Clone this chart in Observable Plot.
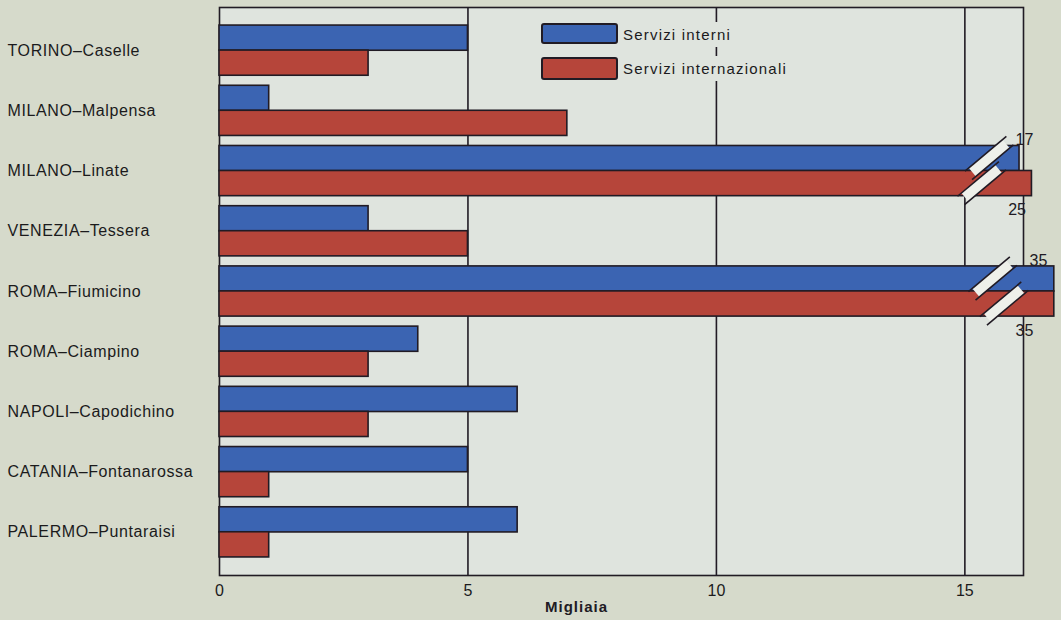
<!DOCTYPE html>
<html>
<head>
<meta charset="utf-8">
<script src="https://cdn.jsdelivr.net/npm/d3@7"></script>
<script src="https://cdn.jsdelivr.net/npm/@observablehq/plot@0.6"></script>
<style>
html, body { margin: 0; padding: 0; background: #d6dacb; }
#wrap { position: relative; width: 1061px; height: 620px; font-family: "Liberation Sans", Arial, sans-serif; color: #1b1a1c; }
#wrap svg { position: absolute; left: 0; top: 0; background: transparent; }
.lg-box { position: absolute; left: 541px; width: 73px; border: 2px solid #211b24; border-radius: 3px; }
.lg-txt { position: absolute; left: 622px; font-size: 15px; letter-spacing: 1.2px; background: #dfe4de; padding: 5px 2px 5px 1px; line-height: 15px; }
</style>
</head>
<body>
<div id="wrap"></div>
<script>
// ---- data ----
const airports = [
  "TORINO–Caselle", "MILANO–Malpensa", "MILANO–Linate", "VENEZIA–Tessera",
  "ROMA–Fiumicino", "ROMA–Ciampino", "NAPOLI–Capodichino",
  "CATANIA–Fontanarossa", "PALERMO–Puntaraisi"
];
const seriesNames = ["Servizi interni", "Servizi internazionali"];
const interni = [5, 1, 17, 3, 35, 4, 6, 5, 6];
const internazionali = [3, 7, 25, 5, 35, 3, 3, 1, 1];
const xTicks = [0, 5, 10, 15];
const xLabel = "Migliaia";
// broken (truncated) bars: length drawn on the cut axis, where the break sign sits, where its value label sits
const brokenAirports = ["MILANO–Linate", "MILANO–Linate", "ROMA–Fiumicino", "ROMA–Fiumicino"];
const brokenSeries = ["Servizi interni", "Servizi internazionali", "Servizi interni", "Servizi internazionali"];
const brokenDrawn = [16.1, 16.35, 16.8, 16.8];
const brokenBreakAt = [15.5, 15.35, 15.57, 15.8];
const brokenLabelAt = [16.2, 16.05, 16.48, 16.2];

const colors = ["#3b64b2", "#b6453a"];
const ink = "#211b24";

// ---- build rows ----
const broken = brokenAirports.map((a, i) => ({
  airport: a, series: brokenSeries[i], drawn: brokenDrawn[i],
  breakAt: brokenBreakAt[i], labelAt: brokenLabelAt[i]
}));
function findBroken(a, s) { return broken.find(b => b.airport === a && b.series === s); }
const rows = [];
airports.forEach((a, i) => {
  [interni[i], internazionali[i]].forEach((v, k) => {
    const b = findBroken(a, seriesNames[k]);
    if (b) b.value = v;
    rows.push({ airport: a, series: seriesNames[k], value: v, len: b ? b.drawn : v });
  });
});

function breakMarks(index, scales, values, dimensions) {
  const x = scales.x, y = scales.y;
  const bw = (y && y.bandwidth) ? y.bandwidth() : 50;
  const g = d3.create("svg:g");
  const ang = 40 * Math.PI / 180;
  const ux = Math.cos(ang), uy = -Math.sin(ang);   // along slash
  const px = Math.sin(ang), py = Math.cos(ang);    // perpendicular
  broken.forEach(b => {
    const cx = x(b.breakAt);
    const cy = y(b.airport) + (b.series === seriesNames[0] ? bw * 0.25 : bw * 0.75);
    const L = 27, L2 = 22, w = 5.5;
    const pts = [
      [cx - ux * L2 - px * w, cy - uy * L2 - py * w],
      [cx + ux * L2 - px * w, cy + uy * L2 - py * w],
      [cx + ux * L2 + px * w, cy + uy * L2 + py * w],
      [cx - ux * L2 + px * w, cy - uy * L2 + py * w]
    ];
    g.append("polygon").attr("points", pts.map(p => p.join(",")).join(" "))
      .attr("fill", "#eef0ea");
    [-1, 1].forEach(s => {
      g.append("line")
        .attr("x1", cx - ux * L + s * px * w).attr("y1", cy - uy * L + s * py * w)
        .attr("x2", cx + ux * L + s * px * w).attr("y2", cy + uy * L + s * py * w)
        .attr("stroke", ink).attr("stroke-width", 1.6);
    });
  });
  return g.node();
}

const chart = Plot.plot({
  width: 1061,
  height: 620,
  marginLeft: 219,
  marginRight: 38,
  marginTop: 7,
  marginBottom: 45,
  style: { background: "transparent", fontFamily: "'Liberation Sans', Arial, sans-serif", color: "#1b1a1c" },
  x: { domain: [0, 16.18] },
  y: { domain: airports, paddingInner: 0.1667, paddingOuter: 0.3, round: false },
  marks: [
    Plot.frame({ fill: "#dfe4de", stroke: ink, strokeWidth: 1.6 }),
    Plot.ruleX(xTicks.filter(t => t > 0), { stroke: ink, strokeWidth: 1.6 }),
    Plot.barX(rows.filter(d => d.series === seriesNames[0]), {
      x: "len", y: "airport", fill: colors[0], stroke: ink, strokeWidth: 1.6, insetBottom: 25
    }),
    Plot.barX(rows.filter(d => d.series === seriesNames[1]), {
      x: "len", y: "airport", fill: colors[1], stroke: ink, strokeWidth: 1.6, insetTop: 25
    }),
    breakMarks,
    Plot.text(broken.filter(b => b.series === seriesNames[0]), {
      x: "labelAt", y: "airport", text: d => String(d.value), dy: -31, fontSize: 16, fill: ink
    }),
    Plot.text(broken.filter(b => b.series === seriesNames[1]), {
      x: "labelAt", y: "airport", text: d => String(d.value), dy: 39, fontSize: 16, fill: ink
    }),
    Plot.axisX(xTicks, { tickSize: 0, tickPadding: 9, fontSize: 16, label: null }),
    Plot.axisY({ tickSize: 0, tickPadding: 0, textAnchor: "start", dx: -212, fontSize: 16, label: null }),
    Plot.text([xLabel], { text: d => d, frameAnchor: "bottom", dx: -45, dy: 36, fontSize: 15, fontWeight: "bold", fill: ink })
  ]
});

const wrap = document.getElementById("wrap");
wrap.appendChild(chart);
d3.select(chart).selectAll('g[aria-label="y-axis tick label"] text').style("letter-spacing", "0.6px");
d3.select(chart).selectAll("text").filter(function () { return this.textContent === xLabel; }).style("letter-spacing", "1px");

// legend (inside the plot area, as in the original)
const legTops = [23, 57], legHeights = [17, 19], txtTops = [22, 56];
seriesNames.forEach((s, i) => {
  const box = document.createElement("div");
  box.className = "lg-box";
  box.style.top = legTops[i] + "px";
  box.style.height = legHeights[i] + "px";
  box.style.background = colors[i];
  wrap.appendChild(box);
  const t = document.createElement("div");
  t.className = "lg-txt";
  t.style.top = txtTops[i] + "px";
  t.textContent = s;
  wrap.appendChild(t);
});
</script>
</body>
</html>
